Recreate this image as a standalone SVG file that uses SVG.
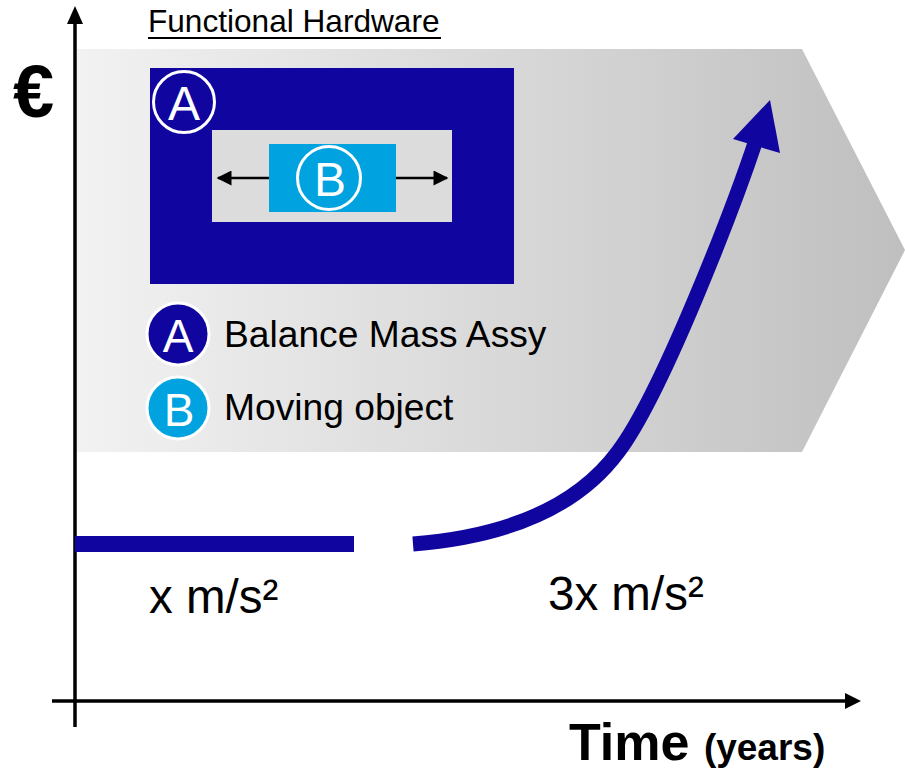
<svg xmlns="http://www.w3.org/2000/svg" width="905" height="771" viewBox="0 0 905 771">
<defs>
<linearGradient id="band" x1="0" y1="0" x2="1" y2="0">
<stop offset="0" stop-color="#f2f2f2"/>
<stop offset="0.7" stop-color="#cfcfcf"/>
<stop offset="1" stop-color="#bfbfbf"/>
</linearGradient>
<marker id="ah" viewBox="0 0 10 10" refX="9" refY="5" markerWidth="6.2" markerHeight="6" orient="auto" markerUnits="strokeWidth">
<path d="M0,0 L10,5 L0,10 Z" fill="#000"/>
</marker>
</defs>
<style>
.t{font-family:"Liberation Sans",Arial,sans-serif;fill:#000}
.w{font-family:"Liberation Sans",Arial,sans-serif;fill:#fff;text-anchor:middle}
.ax{stroke:#000;stroke-width:3.5;fill:none}
.blue{fill:#10069f}
</style>
<rect width="905" height="771" fill="#fff"/>
<g id="band-shape">
<polygon points="77,49 802,49 905,250 802,452 77,452" fill="url(#band)"/>
</g>
<g id="title">
<text class="t" x="148" y="32" font-size="31.6">Functional Hardware</text>
<line x1="148" y1="38" x2="441" y2="38" stroke="#000" stroke-width="2"/>
</g>
<g id="euro">
<text class="t" x="13" y="117" font-size="74" font-weight="bold">€</text>
</g>
<g id="hardware">
<rect class="blue" x="150" y="68" width="364" height="216"/>
<rect x="212" y="130" width="240" height="92" fill="#dcdcdc"/>
<rect x="269" y="144" width="127" height="68" fill="#00a3e0"/>
<circle cx="184" cy="102" r="30.5" fill="none" stroke="#fff" stroke-width="3"/>
<text class="w" x="184" y="120" font-size="48">A</text>
<circle cx="329" cy="178" r="31.5" fill="none" stroke="#fff" stroke-width="3"/>
<text class="w" x="330" y="196" font-size="48">B</text>
</g>
<g id="legend">
<circle class="blue" cx="178" cy="334" r="31" stroke="#fff" stroke-width="3"/>
<text class="w" x="178" y="352" font-size="46">A</text>
<circle cx="178" cy="408" r="31" fill="#00a3e0" stroke="#fff" stroke-width="3"/>
<text class="w" x="179" y="426" font-size="46">B</text>
<text class="t" x="224" y="347" font-size="37.2">Balance Mass Assy</text>
<text class="t" x="224" y="420" font-size="37.2">Moving object</text>
</g>
<g id="connectors">
<line x1="269" y1="178" x2="218" y2="178" stroke="#000" stroke-width="2.5" marker-end="url(#ah)"/>
<line x1="396" y1="178" x2="447" y2="178" stroke="#000" stroke-width="2.5" marker-end="url(#ah)"/>
<line class="ax" x1="75" y1="727" x2="75" y2="22"/>
<polygon points="75,6 67,24 83,24" fill="#000"/>
<line class="ax" x1="52" y1="701" x2="846" y2="701"/>
<polygon points="861,701 845,693 845,709" fill="#000"/>
<line x1="75" y1="544" x2="354" y2="544" stroke="#10069f" stroke-width="16"/>
<path d="M413,544 C500,537 575,510 618,452 C662,394 734,206 756,140" fill="none" stroke="#10069f" stroke-width="15"/>
<polygon points="770,100 733,139 780,153" fill="#10069f"/>
</g>
<g id="labels">
<text class="t" x="149" y="613" font-size="47.5">x m/s²</text>
<text class="t" x="548" y="610" font-size="47.5">3x m/s²</text>
<text class="t" x="569" y="760" font-size="52" font-weight="bold">Time <tspan font-size="37">(years)</tspan></text>
</g>
</svg>
